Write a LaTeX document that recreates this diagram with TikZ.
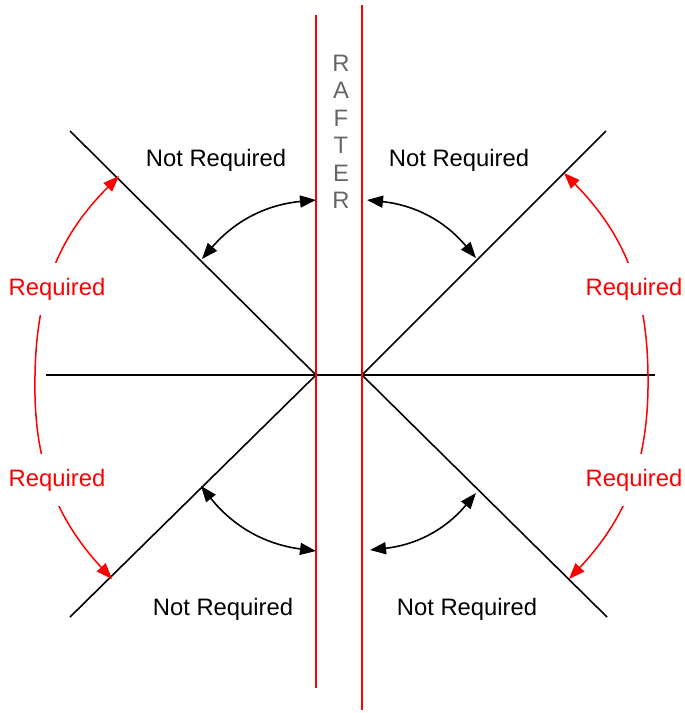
\documentclass[tikz,border=0pt]{standalone}
\usepackage{fontspec}
\setmainfont{Liberation Sans}
\usetikzlibrary{arrows.meta}
\definecolor{raftergray}{HTML}{666666}

\begin{document}
\begin{tikzpicture}[x=1pt, y=1pt,
    every node/.style={font=\fontsize{23.8}{27.5}\selectfont},
    beam/.style={line width=1.6pt, black},
    rafter/.style={line width=1.6pt, red},
    ang/.style={{Triangle[length=16pt,width=12pt]}-{Triangle[length=16pt,width=12pt]}, line width=1.6pt, black},
    req/.style={-{Triangle[length=16pt,width=12pt]}, line width=1.5pt, red},
    lbl/.style={anchor=base, inner sep=0pt},
    reqlbl/.style={lbl, text=red, fill=white, inner xsep=2pt, inner ysep=15pt}
]
    \useasboundingbox (0,0) rectangle (685,-713);

    \coordinate (cl) at (316,-375);
    \coordinate (cr) at (362,-375);
    \coordinate (hw) at (46,-375);
    \coordinate (he) at (655,-375);
    \coordinate (dnw) at (70,-131);
    \coordinate (dsw) at (70,-617);
    \coordinate (dne) at (606,-131);
    \coordinate (dse) at (607,-617);
    \coordinate (rlt) at (316,-15);
    \coordinate (rlb) at (316,-688);
    \coordinate (rrt) at (362,-5);
    \coordinate (rrb) at (362,-710);

    \draw[beam] (hw) -- (he);
    \draw[beam] (dnw) -- (cl) -- (dsw);
    \draw[beam] (dne) -- (cr) -- (dse);
    \draw[rafter] (rlt) -- (rlb);
    \draw[rafter] (rrt) -- (rrb);

    \node[lbl, text=raftergray, align=center, anchor=center] (raft) at (341,-132) {R\\A\\F\\T\\E\\R};

    \coordinate (tlA) at (202,-259);
    \coordinate (tlB) at (316,-200);
    \coordinate (trA) at (367,-200);
    \coordinate (trB) at (476,-258);
    \coordinate (blA) at (201,-486);
    \coordinate (blB) at (316,-551);
    \coordinate (brA) at (370,-550);
    \coordinate (brB) at (476,-493);
    \draw[ang] (tlA) to[bend left=22] (tlB);
    \draw[ang] (trA) to[bend left=22] (trB);
    \draw[ang] (blA) to[bend right=22] (blB);
    \draw[ang] (brA) to[bend right=22] (brB);

    \coordinate (lw) at (35,-375);
    \coordinate (lnw) at (119,-176);
    \coordinate (lsw) at (112,-579);
    \coordinate (re) at (648,-375);
    \coordinate (rne) at (564,-173);
    \coordinate (rse) at (569,-579);
    \draw[req] (lw) to[bend left=22] (lnw);
    \draw[req] (lw) to[bend right=22] (lsw);
    \draw[req] (re) to[bend right=22] (rne);
    \draw[req] (re) to[bend left=22] (rse);

    \node[lbl] (nrtl) at (216,-166) {Not Required};
    \node[lbl] (nrtr) at (459,-166) {Not Required};
    \node[lbl] (nrbl) at (223,-615) {Not Required};
    \node[lbl] (nrbr) at (467,-615) {Not Required};

    \node[reqlbl] (rqlu) at (57,-295) {Required};
    \node[reqlbl] (rqll) at (57,-486) {Required};
    \node[reqlbl] (rqru) at (634,-295) {Required};
    \node[reqlbl] (rqrl) at (634,-486) {Required};
\end{tikzpicture}
\end{document}
